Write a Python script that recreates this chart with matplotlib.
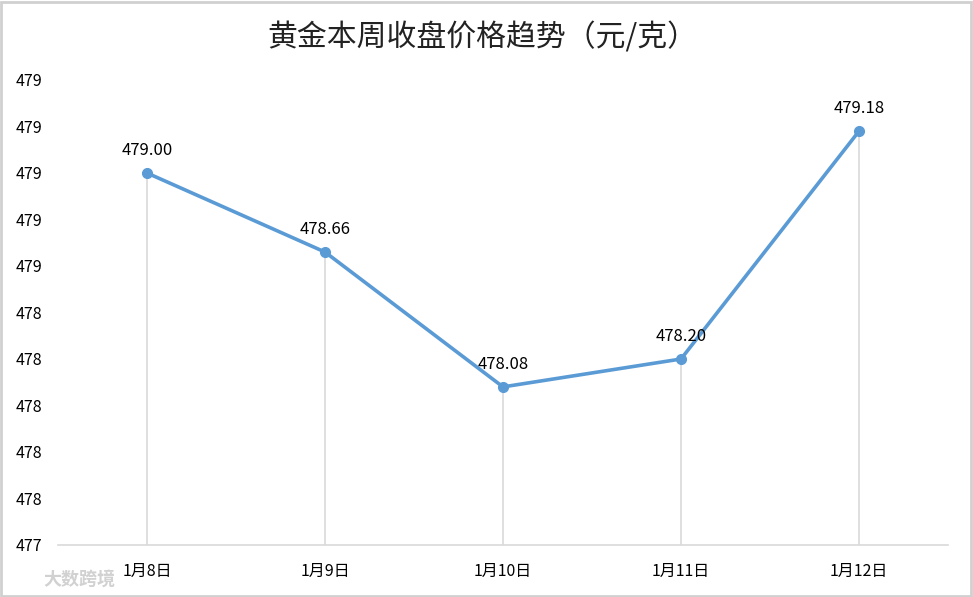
import matplotlib.pyplot as plt
from matplotlib.patches import Rectangle
from matplotlib.ticker import FuncFormatter, MultipleLocator

plt.rcParams['font.family'] = ['Noto Sans CJK SC', 'DejaVu Sans']

# data
dates = ['1月8日', '1月9日', '1月10日', '1月11日', '1月12日']
prices = [479.00, 478.66, 478.08, 478.20, 479.18]
y_min, y_max = 477.4, 479.4

line_color = '#5B9BD5'
grid_color = '#D9D9D9'

fig = plt.figure(figsize=(9.73, 5.97), dpi=100)
ax = fig.add_axes([58 / 973, 52 / 597, 890 / 973, 465 / 597])

x = range(len(dates))

# drop lines from points to the axis
ax.vlines(x, y_min, prices, color=grid_color, linewidth=1.2, zorder=1)

ax.plot(x, prices, color=line_color, linewidth=2.6, marker='o',
        markersize=7, zorder=3)

for xi, p in zip(x, prices):
    ax.annotate(f'{p:.2f}', (xi, p), xytext=(0, 10), textcoords='offset points',
                ha='center', va='bottom', fontsize=12, color='#000000')

ax.set_xlim(-0.5, len(dates) - 0.5)
ax.set_ylim(y_min, y_max)
ax.yaxis.set_major_locator(MultipleLocator(0.2))
ax.yaxis.set_major_formatter(FuncFormatter(lambda v, pos: f'{v:.0f}'))
ax.set_xticks(list(x))
ax.set_xticklabels(dates)

for side in ['top', 'right', 'left']:
    ax.spines[side].set_visible(False)
ax.spines['bottom'].set_color(grid_color)
ax.spines['bottom'].set_linewidth(1.2)
ax.tick_params(axis='x', length=0, pad=13, labelsize=11.5)
ax.tick_params(axis='y', length=0, pad=11, labelsize=11.5)

fig.text(0.496, 0.937, '黄金本周收盘价格趋势（元/克）', ha='center', va='center',
         fontsize=21.5, color='#222222')

# watermark
fig.text(0.045, 0.03, '大数跨境', ha='left', va='center', fontsize=13,
         color='#CCCCCC', fontweight='bold', alpha=0.9)

# figure border
fig.patches.append(Rectangle((0.001, 0.002), 0.997, 0.995, transform=fig.transFigure,
                             fill=False, edgecolor='#D0D0D0', linewidth=2))

fig.savefig('out.png', dpi=100)
